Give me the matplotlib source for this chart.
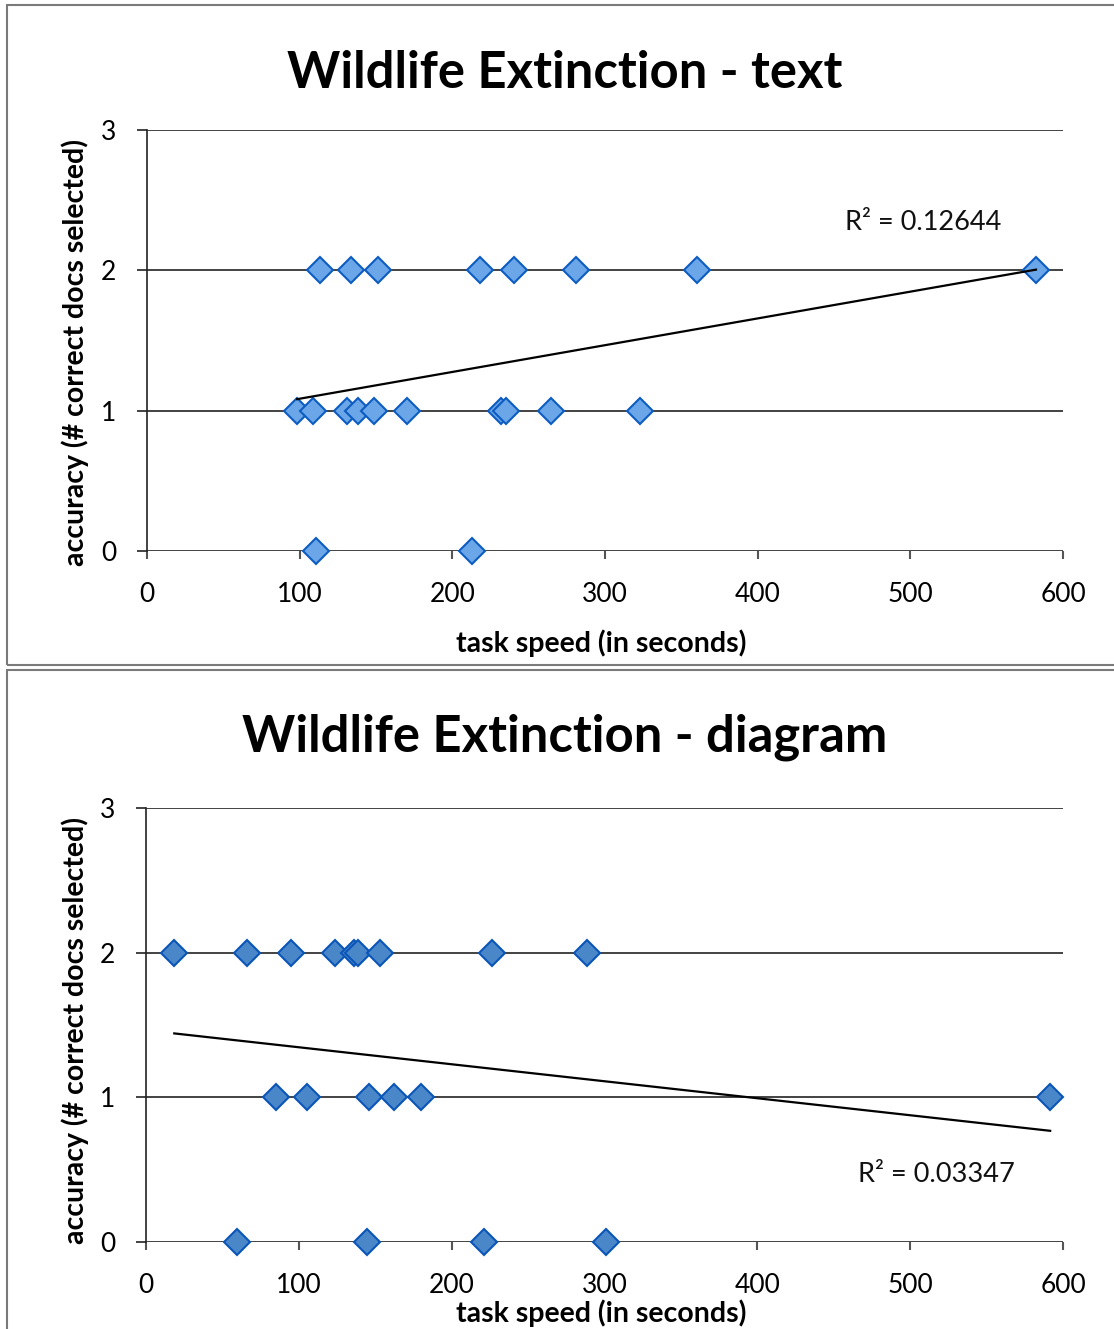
import numpy as np
import matplotlib
matplotlib.use('Agg')
import matplotlib.pyplot as plt
from matplotlib.patches import Rectangle

plt.rcParams['font.family'] = ['Lato', 'DejaVu Sans']

# text condition: task time in seconds and number of correct docs picked
text_speed = [113.6, 133.4, 151.0, 218.0, 240.3, 281.0, 360.3, 582.3,
              98.3, 108.9, 131.1, 138.1, 148.6, 170.4, 231.7, 235.2, 264.4, 323.0,
              110.7, 212.9]
text_acc = [2, 2, 2, 2, 2, 2, 2, 2,
            1, 1, 1, 1, 1, 1, 1, 1, 1, 1,
            0, 0]
text_r2 = 'R² = 0.12644'

# diagram condition
diag_speed = [18.5, 66.3, 94.7, 123.7, 135.8, 138.6, 153.1, 226.2, 288.8,
              84.9, 105.2, 146.1, 162.3, 179.8, 591.6,
              59.4, 144.4, 221.4, 300.8]
diag_acc = [2, 2, 2, 2, 2, 2, 2, 2, 2,
            1, 1, 1, 1, 1, 1,
            0, 0, 0, 0]
diag_r2 = 'R² = 0.03347'

x_ticks = [0, 100, 200, 300, 400, 500, 600]
y_ticks = [0, 1, 2, 3]

W, H = 1114, 1329
fig = plt.figure(figsize=(W / 100, H / 100), dpi=100)

# chart frames
fig.patches.append(Rectangle((7 / W, 1 - 665 / H), 1.2, (665 - 5) / H,
                             transform=fig.transFigure, fill=False,
                             edgecolor='#7a7a7a', linewidth=1.5))
fig.patches.append(Rectangle((7 / W, -0.1), 1.2, 0.1 + (1329 - 670) / H,
                             transform=fig.transFigure, fill=False,
                             edgecolor='#7a7a7a', linewidth=1.5))


def scatter_panel(rect, speed, acc, title, r2_text, r2_pos, face, edge,
                  title_y, xlabel_y, ylabel_y):
    ax = fig.add_axes(rect)
    ax.set_xlim(0, 600)
    ax.set_ylim(0, 3)
    ax.set_xticks(x_ticks)
    ax.set_yticks(y_ticks)
    for s in ['top', 'right', 'bottom']:
        ax.spines[s].set_visible(False)
    ax.spines['left'].set_color('#222222')
    ax.spines['left'].set_linewidth(1.2)
    for v in y_ticks:
        ax.axhline(v, color='#222222', linewidth=1.2, zorder=1)
    ax.tick_params(axis='x', direction='out', length=6, width=1.5,
                   color='#555555', labelsize=19, pad=16)
    ax.tick_params(axis='y', direction='out', length=7, width=1.2,
                   color='#222222', labelsize=19, pad=15)

    ax.plot(speed, acc, linestyle='none', marker='D', markersize=13.5,
            markerfacecolor=face, markeredgecolor=edge, markeredgewidth=1.5,
            zorder=3, clip_on=False)

    # linear trendline over the data range
    b, a = np.polyfit(speed, acc, 1)
    xs = np.array([min(speed), max(speed)])
    ax.plot(xs, a + b * xs, color='black', linewidth=1.6, zorder=4)

    ax.text(r2_pos[0], r2_pos[1], r2_text, fontsize=19.5, ha='left',
            va='center', color='#111111')

    fig.text(565 / W, 1 - title_y / H, title, fontsize=36.5, fontweight='bold',
             ha='center', va='center')
    fig.text((rect[0] + rect[2] / 2) - 0.003, 1 - xlabel_y / H,
             'task speed (in seconds)', fontsize=20.5, fontweight='bold',
             ha='center', va='center')
    fig.text(75 / W, 1 - ylabel_y / H, 'accuracy (# correct docs selected)',
             fontsize=20.5, fontweight='bold', rotation=90,
             ha='center', va='center')
    return ax


scatter_panel([147 / W, 1 - 551 / H, 916 / W, 421 / H],
              text_speed, text_acc, 'Wildlife Extinction - text',
              text_r2, (457, 2.34), '#6aa6e8', '#0d5cc2',
              73, 643, 352)

scatter_panel([146 / W, 1 - 1242 / H, 917 / W, 434 / H],
              diag_speed, diag_acc, 'Wildlife Extinction - diagram',
              diag_r2, (466, 0.47), '#4a87c9', '#0a55b8',
              737, 1313, 1030)

fig.savefig('out.png', dpi=100)
